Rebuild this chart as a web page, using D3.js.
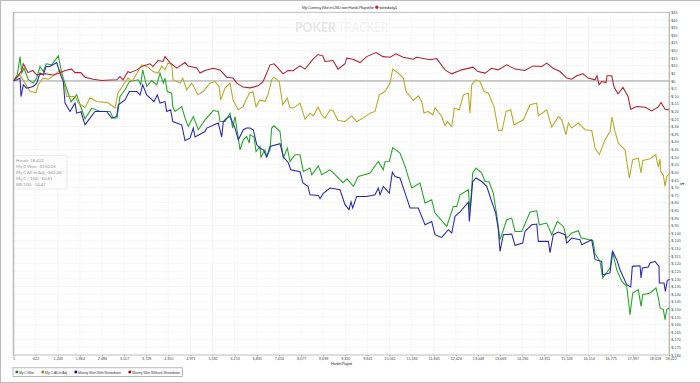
<!DOCTYPE html>
<html><head><meta charset="utf-8">
<script src="https://cdnjs.cloudflare.com/ajax/libs/d3/7.8.5/d3.min.js"></script>
<style>
html,body{margin:0;padding:0;background:#fff;overflow:hidden}
svg{display:block;font-family:"Liberation Sans",Arial,sans-serif}
</style></head><body><svg id="c" width="700" height="383"></svg>
<script>
const xTickValues=[1,622,1243,1864,2486,3107,3728,4350,4971,5592,6213,6835,7456,8077,8699,9320,9941,10562,11184,11805,12426,13048,13669,14290,14911,15533,16154,16775,17397,18018,18422];
const yTickValues=[45,40,35,30,25,20,15,10,5,0,-5,-10,-15,-20,-25,-30,-35,-40,-45,-50,-55,-60,-65,-70,-75,-80,-85,-90,-95,-100,-105,-110,-115,-120,-125,-130,-135,-140,-145,-150,-155,-160,-165,-170,-175,-180];

const redHands=[1,128,231,276,409,540,653,886,1111,1307,1448,1636,1729,1889,2010,2243,2479,2712,2900,2993,3077,3218,3274,3462,3639,3836,3920,4060,4201,4257,4397,4586,4819,4903,5147,5240,5381,5605,5802,5990,6167,6271,6448,6645,6869,7010,7114,7206,7319,7431,7571,7712,7852,8049,8190,8414,8555,8687,8751,8976,9116,9313,9361,9538,9734,9922,10184,10381,10577,10746,10943,11223,11327,11701,11889,12122,12310,12591,12909,13049,13246,13434,13611,13855,14089,14369,14594,14838,14979,15156,15352,15540,15681,15822,15999,16139,16336,16392,16448,16524,16645,16673,16805,16870,16982,17122,17263,17338,17507,17740,17928,18105,18189,18302,18422];
const redValues=[0,3.3,6.8,11.2,5.4,6.8,3.9,4.6,3.9,5.2,6.8,7.7,5.4,5.4,2.4,1.1,0.2,0.5,0.7,2.8,0.7,6.1,5.4,7.2,9.8,11.2,9.4,13.3,12.7,15.9,12,8.3,12,9.8,8.5,5.1,6.8,8.3,7.2,2.4,1.8,-1.5,-4.1,-4.6,-3.3,-0.5,5.1,10.5,11.2,8.3,4.6,6.8,6.6,9.8,7.7,14.2,17.3,16.4,12.7,13.3,7.7,11.2,14.9,14.2,12,15.9,18.6,15.9,15.5,17.7,15.5,14.2,15.5,13.8,14.6,7.2,4.6,7.2,9,6.1,5.1,8.3,7.2,10.5,7.7,6.8,9.8,9.4,11.6,8.3,6.1,1.8,1.1,3.3,4.6,1.8,0.7,3.3,-2.6,-0.5,-1.1,3.3,3.3,-4.1,-8.5,-4.4,-10.3,-18.6,-16.9,-17.3,-19.7,-17.3,-14.2,-18.6,-19];

const yellowHands=[1,184,324,465,633,698,830,979,1167,1307,1400,1496,1729,1813,2010,2150,2338,2656,2852,2937,3218,3321,3462,3602,3779,3920,4060,4164,4257,4341,4445,4482,4679,4754,4866,5007,5184,5324,5521,5661,5774,5821,5942,6083,6167,6308,6448,6625,6729,6813,6925,7066,7150,7254,7319,7467,7563,7692,7768,7880,8049,8190,8330,8423,8555,8659,8751,8892,8976,9116,9313,9501,9642,9819,10016,10156,10277,10437,10577,10653,10811,10951,11027,11232,11372,11468,11532,11645,11777,11841,12029,12122,12187,12310,12383,12524,12636,12777,12824,12872,12993,13105,13218,13339,13499,13620,13724,13836,13968,14061,14322,14510,14698,14743,14979,15119,15305,15400,15521,15586,15681,15867,16055,16243,16336,16456,16617,16757,16813,16898,16990,17178,17299,17394,17552,17628,17675,17861,18041,18114,18162,18181,18254,18302,18349,18422];
const yellowValues=[0,3.9,-1.5,-7,-7.7,-2.6,1.8,1.1,3.9,7.2,0.7,-10.3,-10.3,-14.4,-17.7,-11.1,-13.6,-14.4,-17.7,-7.9,2,-0.5,4.6,10.5,9,6.1,5.1,9.8,7.2,11.8,10.5,0.7,-1.5,1.8,-5.9,-1.5,-9.2,-7,-1.5,-0.5,-3.7,-12.5,-4.8,-1.5,-12.5,-19,-16.9,-8.1,-7.2,-16.9,-12.5,-13.6,-9.2,0.7,2.4,-0.5,-15.7,-11.3,-17.7,-17.7,-14.6,-25.1,-21.2,-23,-17.3,-22.3,-24.5,-19,-19.5,-26,-26.7,-23,-26.7,-24.5,-21.2,-20.1,-9.2,-7,-1.5,7.7,5.1,1.8,-7,-12.9,-9.8,-13.6,-21.2,-20.1,-22.3,-17.7,-23.4,-29.5,-26.7,-30,-17.9,-19,-9.2,-8.1,-21.2,-2.6,0.7,-0.5,-7,-8.1,-16.9,-32.6,-32.6,-20.1,-19,-28.9,-25.6,-15.7,-14.6,-23,-19,-30.4,-23.4,-25.6,-35.4,-27.7,-31,-27.7,-32.1,-32.6,-44.1,-48.5,-38.7,-33.3,-23.8,-33.3,-40.9,-45.3,-63.8,-51.8,-50.7,-60.5,-52.3,-51.4,-48.5,-56.6,-51.4,-59.5,-61.7,-69.3,-62.8,-61];

const greenHands=[1,108,184,231,296,417,557,653,746,838,914,1074,1260,1355,1476,1616,1776,1869,2010,2198,2431,2712,2805,2909,2993,3133,3254,3507,3574,3630,3743,3883,4024,4116,4209,4257,4322,4445,4473,4538,4726,4819,4911,5052,5192,5381,5614,5754,5802,5942,6083,6158,6223,6316,6364,6457,6551,6625,6645,6757,6813,6925,6953,7066,7114,7206,7254,7319,7487,7535,7580,7692,7768,7908,8049,8142,8330,8378,8563,8659,8892,8985,9257,9369,9546,9687,10016,10248,10388,10437,10557,10653,10858,11000,11187,11420,11560,11748,11841,12170,12355,12451,12544,12777,12824,12900,12993,13153,13246,13358,13479,13574,13667,13855,13996,14089,14277,14510,14698,14771,14979,15119,15277,15446,15540,15681,15867,15942,16280,16336,16476,16552,16757,16822,16945,17086,17226,17319,17394,17552,17628,17675,17880,18049,18133,18162,18254,18302,18349,18422];
const greenValues=[0,3.9,15.9,5.1,8.3,0.7,-1.5,1.8,9.4,6.1,11.2,10.5,16.4,5.1,-3.7,-13.8,-9.2,-15.7,-24.9,-17.9,-20.1,-20.1,-24.5,-24.3,-10.3,-5.9,-0.5,0.7,-2.6,7.2,-3.7,0.2,-2.6,5.1,-1.5,1.8,-7,-8.1,-16.9,-20.1,-16.9,-24.5,-30,-23.4,-32.1,-25.6,-19.5,-20.1,-26.7,-26.7,-21.2,-31,-23.4,-37.6,-45.3,-38.7,-36.5,-40.9,-35.4,-36.9,-46.4,-43.1,-50.1,-45.3,-49.7,-45.3,-31,-29.5,-33.3,-43.1,-50.7,-44.1,-52.9,-48.5,-48.5,-59.5,-57.3,-61.7,-55.8,-61.7,-58.4,-60.5,-66.9,-64.3,-69.3,-62.8,-60.5,-52.9,-58.4,-53.1,-52.9,-43.8,-47.4,-56.2,-70.4,-67.1,-80.2,-78.1,-86.8,-95.6,-82.5,-82.5,-74.8,-71.5,-85.7,-60.5,-57.3,-60.5,-66.1,-66.3,-73.7,-87.9,-104.3,-91.2,-90.1,-98.9,-98.9,-86.1,-85.3,-94.5,-93.4,-101,-92.3,-95.6,-103.2,-99.9,-98.4,-103,-105,-113.5,-118.5,-129.4,-122.9,-112,-124,-131.7,-134.9,-153.5,-139.3,-137.1,-148.1,-140.4,-139.3,-136,-144.8,-149.1,-150.2,-156.8,-150.2,-149.1];

const blueHands=[1,108,184,212,276,372,557,653,746,838,914,1027,1215,1307,1400,1448,1588,1729,1776,1897,2010,2150,2291,2619,2760,2900,2945,3133,3254,3462,3555,3630,3743,3948,4041,4116,4257,4304,4417,4473,4726,4819,4959,5052,5100,5381,5428,5754,5850,5894,5990,6083,6223,6316,6457,6551,6645,6737,6833,6925,7018,7114,7206,7487,7580,7720,7788,8049,8133,8274,8330,8563,8611,8695,8892,9173,9313,9426,9482,9529,9642,9922,10156,10248,10296,10388,10557,10642,10717,10858,11000,11140,11372,11560,11748,11841,12029,12215,12310,12403,12544,12777,12805,12900,12993,13153,13293,13434,13546,13620,13667,13760,13996,14089,14305,14369,14557,14698,14743,15024,15072,15164,15305,15493,15540,15681,15914,15962,16243,16336,16524,16552,16757,16832,16945,17038,17226,17338,17384,17600,17628,17665,17833,17880,18020,18133,18142,18274,18311,18367,18422];
const blueValues=[0,0.7,1.8,-10.3,-2.6,-4.8,-3.7,-1.5,5.1,3.9,9.4,9.4,12,5.1,-0.5,-14.6,-20.1,-14.6,-21.2,-20.3,-28.9,-24.5,-20.1,-20.1,-24.5,-23.4,-15.7,-12.5,-7,-7,-9.2,-2.6,-9.2,-13.6,-9.2,-14.6,-13.6,-20.1,-19,-26.7,-28.9,-39.2,-37.6,-31,-36.9,-33.3,-31,-27.7,-36.9,-26.7,-24.5,-23.4,-31,-38.7,-32.1,-31,-31,-32.1,-42,-44.1,-45.3,-50.1,-43.1,-41.3,-49.9,-53.8,-58.4,-59.7,-67.1,-69.3,-74.8,-75.2,-77.4,-74.1,-70.4,-71.5,-81.3,-84.6,-79.4,-83.5,-75.9,-75.9,-74.8,-70.4,-74.8,-69.3,-73.7,-59.9,-62.8,-63.8,-73.7,-83.5,-83.5,-94.5,-92.3,-101,-102.8,-97.7,-99.9,-89,-86.1,-79.6,-92.3,-66.1,-63.8,-66.1,-69.3,-79.2,-86.8,-97.7,-112,-101,-100.6,-108,-106.5,-98.9,-94.5,-94,-105.4,-105.4,-112.8,-101,-99.3,-101,-106.5,-103.2,-104.3,-107.6,-104.3,-117.4,-118.5,-127.3,-126.1,-112,-117.4,-124,-133.8,-135.3,-121.8,-121.4,-129.4,-122.9,-122.2,-119.6,-118.5,-121.8,-132.7,-132.7,-138.2,-131,-130.5];

const legendLabels=["My C Won","My C All-In Adj","Money Won With Showdown","Money Won Without Showdown"];
const infoLines=["Hands: 18,422","My C Won: -$150.06","My C All-In Adj: -$62.06","My C / 100: -$0.81","BB/100: -14.47"];
const seriesColors=["#22a623","#b5aa22","#2626b4","#b22030"];
const legendColors=["#0a8a0a","#8a8a0a","#0a0a8a","#8a0a0a"];

const svg=d3.select("#c");
const W=700,H=383,L=13.5,R=669.3,T=12.3,B=355;
const x=d3.scaleLinear().domain([1,18422]).range([L,R]);
const y=d3.scaleLinear().domain([45,-180]).range([T,B]);

svg.append("rect").attr("x",.5).attr("y",.5).attr("width",W).attr("height",H-1).attr("fill","#fff").attr("stroke","#bdbdbd");

// grid
const grid=svg.append("g").attr("stroke","#f4f4f4").attr("stroke-width",.8);
grid.selectAll("line.v").data(xTickValues).join("line").attr("class","v").attr("x1",d=>x(d)).attr("x2",d=>x(d)).attr("y1",T).attr("y2",B);
grid.selectAll("line.h").data(yTickValues).join("line").attr("class","h").attr("x1",L).attr("x2",R).attr("y1",d=>y(d)).attr("y2",d=>y(d));

// watermark
const wmFont="Lato,'Open Sans',sans-serif";
svg.append("text").attr("x",295).attr("y",32).attr("font-family",wmFont).attr("font-size",13.5).attr("font-weight",700).attr("fill","#e6e6e6").attr("textLength",41).attr("lengthAdjust","spacingAndGlyphs").text("POKER");
svg.append("text").attr("x",338).attr("y",32).attr("font-family",wmFont).attr("font-size",13.5).attr("fill","#f1f1f1").attr("textLength",50).attr("lengthAdjust","spacingAndGlyphs").text("TRACKER");

// frame
svg.append("rect").attr("x",L).attr("y",T).attr("width",R-L).attr("height",B-T).attr("fill","none").attr("stroke","#b5b5b5").attr("stroke-width",.8);
svg.append("line").attr("x1",L).attr("x2",L).attr("y1",T).attr("y2",B).attr("stroke","#bdbdbd").attr("stroke-width",1.6);
svg.append("line").attr("x1",R).attr("x2",R).attr("y1",T).attr("y2",B).attr("stroke","#bdbdbd").attr("stroke-width",1.2);
svg.append("line").attr("x1",L).attr("x2",R).attr("y1",y(0)).attr("y2",y(0)).attr("stroke","#c6c6c6").attr("stroke-width",1.6);

// axes
const fmtY=d=>"$"+d;
const gx=svg.append("g").attr("transform",`translate(0,${B})`).call(d3.axisBottom(x).tickValues(xTickValues).tickFormat(d3.format(",")).tickSize(1.5).tickPadding(0.9));
const gy=svg.append("g").attr("transform",`translate(${R},0)`).call(d3.axisRight(y).tickValues(yTickValues).tickFormat(fmtY).tickSize(1.2).tickPadding(0.8));
[gx,gy].forEach(g=>{g.select(".domain").remove();g.selectAll("line").attr("stroke","#777").attr("stroke-width",.5);
 g.selectAll("text").attr("font-size",3.7).attr("fill","#444");});
gx.selectAll("text").filter(d=>d===18422).attr("dx",1.5);

// lines
const line=(hs)=>d3.line().x((d,i)=>x(hs[i])).y(d=>y(d)).curve(d3.curveLinear);
const series=[[greenHands,greenValues],[yellowHands,yellowValues],[blueHands,blueValues],[redHands,redValues]];
svg.append("g").selectAll("path").data(series).join("path")
 .attr("d",d=>line(d[0])(d[1])).attr("fill","none").attr("stroke",(d,i)=>seriesColors[i])
 .attr("stroke-width",1.05).attr("stroke-linejoin","miter");

// title
svg.append("text").attr("x",302).attr("y",8.6).attr("font-size",4.2).attr("fill","#444").attr("textLength",72).text("My Currency Won in USD over Hands Played for");
svg.append("circle").attr("cx",376.8).attr("cy",7.2).attr("r",1.7).attr("fill","#d5202b");
svg.append("text").attr("x",379.5).attr("y",8.6).attr("font-size",4.2).attr("fill","#444").attr("textLength",18).text("technolucky1,");

// axis titles
svg.append("text").attr("x",331).attr("y",365.4).attr("font-size",4).attr("fill","#444").attr("textLength",21).text("Hands Played");
svg.append("text").attr("transform","translate(684,184) rotate(-90)").attr("text-anchor","middle").attr("font-size",4.5).attr("fill","#444").text("$");

// info box
svg.append("rect").attr("x",14.5).attr("y",155.7).attr("width",52.5).attr("height",33.3).attr("fill","#fcfcfc").attr("stroke","#e4e4e4").attr("stroke-width",.7);
svg.append("g").selectAll("text").data(infoLines).join("text").attr("x",16).attr("y",(d,i)=>161.7+i*6.15)
 .attr("font-family","Lato,'Open Sans',sans-serif").attr("font-size",4.3).attr("fill","#9a9a9a").text(d=>d);

// legend
svg.append("rect").attr("x",13).attr("y",367.8).attr("width",169.5).attr("height",8.8).attr("fill","#fff").attr("stroke","#a5a5a5").attr("stroke-width",.8);
const legendX=[15.5,41.5,74.5,128.5], legendW=[15,22,43,48];
const lg=svg.append("g").selectAll("g").data(legendLabels).join("g");
lg.append("rect").attr("x",(d,i)=>legendX[i]).attr("y",370.7).attr("width",2.6).attr("height",2.6).attr("fill",(d,i)=>legendColors[i]);
lg.append("text").attr("x",(d,i)=>legendX[i]+3.6).attr("y",373.8).attr("font-size",3.7).attr("fill","#444").attr("textLength",(d,i)=>legendW[i]).text(d=>d);
</script></body></html>
